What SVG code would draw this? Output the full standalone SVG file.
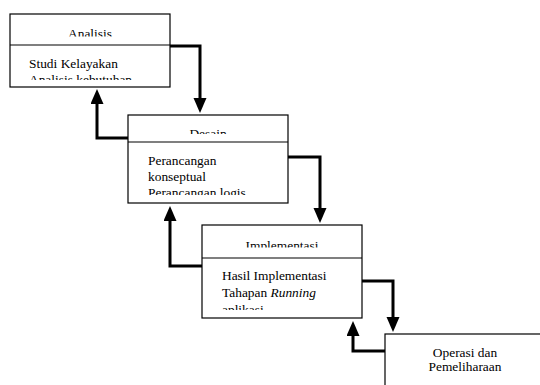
<svg xmlns="http://www.w3.org/2000/svg" width="540" height="385" viewBox="0 0 540 385">
<style>
.box{fill:#fff;stroke:#000;stroke-width:1.2}
.div{stroke:#000;stroke-width:1.2}
.t{font-family:"Liberation Serif","Times New Roman",serif;font-size:13.4px;fill:#000}
.c{text-anchor:middle}
.con{fill:none;stroke:#000;stroke-width:3;marker-end:url(#ah)}
</style>
<defs>
<marker id="ah" markerUnits="userSpaceOnUse" markerWidth="16" markerHeight="14" refX="1" refY="6.5" orient="auto">
<path d="M0,0 L15,6.5 L0,13 z" fill="#000"/>
</marker>
<clipPath id="c1t"><rect x="10" y="14" width="160" height="22.5"/></clipPath>
<clipPath id="c1b"><rect x="10" y="45" width="160" height="35"/></clipPath>
<clipPath id="c2t"><rect x="128" y="115" width="160" height="19"/></clipPath>
<clipPath id="c2b"><rect x="128" y="142" width="160" height="53"/></clipPath>
<clipPath id="c3t"><rect x="202" y="225" width="160" height="22.5"/></clipPath>
<clipPath id="c3b"><rect x="202" y="258" width="160" height="52"/></clipPath>
</defs>
<g id="connectors">
<path class="con" d="M170,46 H200 V99"/>
<path class="con" d="M128,138 H97 V103"/>
<path class="con" d="M288,157 H320 V209"/>
<path class="con" d="M202,266 H170 V220"/>
<path class="con" d="M362,281 H393 V318"/>
<path class="con" d="M385,351 H353 V335"/>
</g>
<g id="analisis">
<rect class="box" x="10" y="14" width="160" height="73"/>
<line class="div" x1="10" y1="45" x2="170" y2="45"/>
<g clip-path="url(#c1t)"><text class="t c" x="90" y="38">Analisis</text></g>
<g clip-path="url(#c1b)">
<text class="t" x="29" y="68">Studi Kelayakan</text>
<text class="t" x="29" y="84">Analisis kebutuhan</text>
</g>
</g>
<g id="desain">
<rect class="box" x="128" y="115" width="160" height="88"/>
<line class="div" x1="128" y1="142" x2="288" y2="142"/>
<g clip-path="url(#c2t)"><text class="t c" x="208" y="138">Desain</text></g>
<g clip-path="url(#c2b)">
<text class="t" x="148" y="165">Perancangan</text>
<text class="t" x="148" y="181">konseptual</text>
<text class="t" x="148" y="197">Perancangan logis</text>
</g>
</g>
<g id="implementasi">
<rect class="box" x="202" y="225" width="160" height="93"/>
<line class="div" x1="202" y1="258" x2="362" y2="258"/>
<g clip-path="url(#c3t)"><text class="t c" x="282" y="250">Implementasi</text></g>
<g clip-path="url(#c3b)">
<text class="t" x="222" y="280">Hasil Implementasi</text>
<text class="t" x="222" y="297">Tahapan <tspan font-style="italic">Running</tspan></text>
<text class="t" x="222" y="314">aplikasi</text>
</g>
</g>
<g id="operasi">
<rect class="box" x="385" y="334" width="200" height="100"/>
<text class="t c" x="465" y="357">Operasi dan</text>
<text class="t c" x="465" y="371">Pemeliharaan</text>
</g>
</svg>
